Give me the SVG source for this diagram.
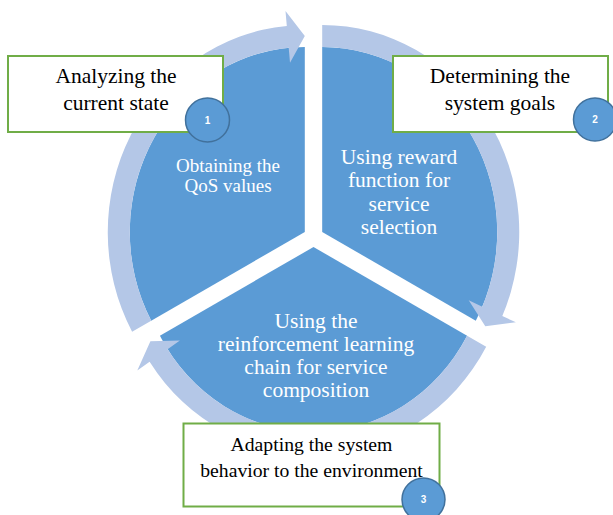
<svg xmlns="http://www.w3.org/2000/svg" width="613" height="515" viewBox="0 0 613 515">
  <style>
    .seg { fill: #5b9bd5; }
    .ring { fill: #b4c7e7; }
    .box { fill: #ffffff; stroke: #70ad47; stroke-width: 2; }
    .badge { fill: #5b9bd5; stroke: #41719c; stroke-width: 1.5; }
    .seg-text { font-family: "Liberation Serif", "Times New Roman", serif; font-size: 21.5px; fill: #ffffff; text-anchor: middle; }
    .box-text { font-family: "Liberation Serif", "Times New Roman", serif; font-size: 21.5px; fill: #000000; text-anchor: middle; }
    .num { font-family: "Liberation Sans", Arial, sans-serif; font-size: 10px; fill: #ffffff; text-anchor: middle; font-weight: bold; }
  </style>

  <!-- pie segments (exploded, 120 degrees each) -->
  <g id="segment-qos">
    <path class="seg" d="M304.8,232 L151.2,320.7 A175,185 0 0 1 304.8,47 Z"/>
    <text class="seg-text" font-size="19" x="228" y="171.5" style="font-size:19px">Obtaining the</text>
    <text class="seg-text" x="228" y="191.5" style="font-size:19px">QoS values</text>
  </g>
  <g id="segment-reward">
    <path class="seg" d="M322.2,232 L322.2,47 A175,185 0 0 1 475.8,320.7 Z"/>
    <text class="seg-text" x="399" y="163.5">Using reward</text>
    <text class="seg-text" x="399" y="187">function for</text>
    <text class="seg-text" x="399" y="210.5">service</text>
    <text class="seg-text" x="399" y="234">selection</text>
  </g>
  <g id="segment-rl">
    <path class="seg" d="M313.5,247 L467.1,335.7 A175,185 0 0 1 159.9,335.7 Z"/>
    <text class="seg-text" x="316" y="327.5">Using the</text>
    <text class="seg-text" x="316" y="351">reinforcement learning</text>
    <text class="seg-text" x="316" y="374">chain for service</text>
    <text class="seg-text" x="316" y="397">composition</text>
  </g>

  <!-- circular arrows around the cycle -->
  <g id="connectors">
    <path class="ring" d="M151.2,320.7 L132.1,331.7 A197,207 0 0 1 286.8,25.9 L285.5,10.9 L304.8,36 L290,62.7 L288.7,47.8 A175,185 0 0 0 151.2,320.7 Z"/>
    <path class="ring" d="M322.2,47 L322.2,25 A197,207 0 0 1 502.3,316 L515.9,322.3 L485.3,326.2 L468.7,300.3 L482.3,306.7 A175,185 0 0 0 322.2,47 Z"/>
    <path class="ring" d="M467.1,335.7 L486.2,346.7 A197,207 0 0 1 149.6,361.8 L137.3,370.4 L150.4,341.2 L179.9,340.6 L167.6,349.2 A175,185 0 0 0 467.1,335.7 Z"/>
  </g>

  <!-- step boxes -->
  <g id="step-1">
    <rect class="box" x="8" y="56" width="215" height="76"/>
    <text class="box-text" x="116" y="83">Analyzing the</text>
    <text class="box-text" x="116" y="110">current state</text>
    <circle class="badge" cx="207.5" cy="120" r="22"/>
    <text class="num" x="207.5" y="123.5">1</text>
  </g>
  <g id="step-2">
    <rect class="box" x="393" y="56" width="215" height="76"/>
    <text class="box-text" x="500" y="83">Determining the</text>
    <text class="box-text" x="500" y="110">system goals</text>
    <circle class="badge" cx="595" cy="119.5" r="21.5"/>
    <text class="num" x="595" y="123">2</text>
  </g>
  <g id="step-3">
    <rect class="box" x="183.5" y="423.5" width="256" height="83"/>
    <text class="box-text" x="311.5" y="451" style="font-size:19.7px">Adapting the system</text>
    <text class="box-text" x="311.5" y="477" style="font-size:19.7px">behavior to the environment</text>
    <circle class="badge" cx="423.5" cy="499.5" r="21.5"/>
    <text class="num" x="423.5" y="503">3</text>
  </g>
</svg>
